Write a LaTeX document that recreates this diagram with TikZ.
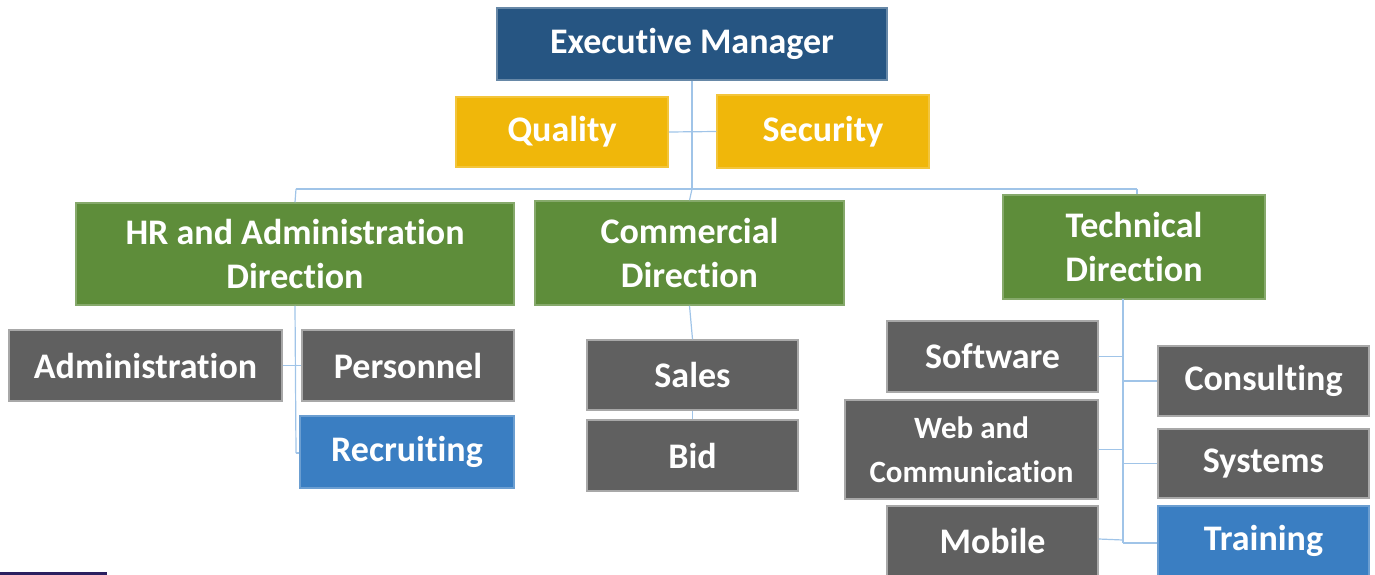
\documentclass[tikz,border=0pt]{standalone}
\usepackage{fontspec}
\setmainfont{Carlito}[Ligatures={NoCommon,NoContextual}]
\definecolor{navy}{RGB}{38,85,130}
\definecolor{gold}{RGB}{240,183,10}
\definecolor{leaf}{RGB}{94,141,58}
\definecolor{slate}{RGB}{96,96,96}
\definecolor{sky}{RGB}{58,126,194}
\definecolor{wire}{RGB}{160,196,232}
\definecolor{ink}{RGB}{42,32,96}
\tikzset{
  box/.style={rectangle, inner sep=0pt, align=center, text=white,
    font=\fontsize{36}{44}\selectfont\bfseries, line width=1.5pt},
  navybox/.style={box, fill=navy, draw=navy!70!white},
  goldbox/.style={box, fill=gold, draw=gold!80!white},
  leafbox/.style={box, fill=leaf, draw=leaf!75!white},
  slatebox/.style={box, fill=slate, draw=slate!55!white},
  skybox/.style={box, fill=sky, draw=sky!75!white},
  wirepath/.style={draw=wire, line width=1.2pt},
}
\newcommand{\boxat}[7]{% style, name, x1, y1, x2, y2, text
  \node[#1, minimum width={#5-#3}, minimum height={#6-#4}] (#2) at ({(#3+#5)/2},{(#4+#6)/2+2}) {#7};}
\begin{document}
\begin{tikzpicture}[x=1pt,y=-1pt]
\useasboundingbox (0,0) rectangle (1375,575);
\coordinate (bus) at (692,189);
\coordinate (busL) at (296,189);
\coordinate (busR) at (1137,189);
\coordinate (hrj) at (296,453);
\coordinate (tjt) at (1123,299);
\coordinate (tjb) at (1123,543);

\boxat{navybox}{exec}{497}{6}{887}{78}{Executive Manager}
\boxat{goldbox}{quality}{456}{95}{668}{165}{Quality}
\boxat{goldbox}{security}{717}{93}{929}{166}{Security}
\boxat{leafbox}{hr}{76}{201}{514}{303}{HR and Administration\\Direction}
\boxat{leafbox}{comm}{535}{199}{844}{303}{Commercial\\Direction}
\boxat{leafbox}{tech}{1003}{193}{1265}{297}{Technical\\Direction}
\boxat{slatebox}{admin}{9}{328}{282}{399}{Administration}
\boxat{slatebox}{pers}{302}{328}{514}{399}{Personnel}
\boxat{skybox}{recr}{300}{414}{514}{486}{Recruiting}
\boxat{slatebox}{sales}{587}{338}{798}{408}{Sales}
\boxat{slatebox}{bid}{587}{418}{798}{489}{Bid}
\boxat{slatebox}{soft}{887}{319}{1098}{390}{Software}
\boxat{slatebox}{web}{845}{398}{1098}{497}{\fontsize{31}{36}\selectfont\bfseries Web and\\\fontsize{31}{36}\selectfont\bfseries Communication}
\boxat{slatebox}{mob}{887}{504}{1098}{574}{Mobile}
\boxat{slatebox}{cons}{1158}{344}{1369}{414}{Consulting}
\boxat{slatebox}{sys}{1158}{427}{1369}{496}{Systems}
\boxat{skybox}{train}{1158}{504}{1369}{574}{Training}

\path[wirepath] (exec.south) -- (bus);
\path[wirepath] (quality.east) -- (security.west);
\path[wirepath] (busL) -- (busR);
\path[wirepath] (busL) -- (hr.north);
\path[wirepath] (bus) -- (comm.north);
\path[wirepath] (busR) -- (busR |- tech.north);
\path[wirepath] (hr.south) -- (hrj);
\path[wirepath] (hrj) -- (recr.west |- hrj);
\path[wirepath] (admin.east) -- (pers.west);
\path[wirepath] (comm.south) -- (sales.north);
\path[wirepath] (sales.south) -- (bid.north);
\path[wirepath] (tjt) -- (tjb);
\path[wirepath] (soft.east) -- (soft.east -| tjt);
\path[wirepath] (web.east) -- (web.east -| tjt);
\path[wirepath] (mob.east) ++(0,-2) -- (1123,540);
\path[wirepath] (tjt |- cons.west) -- (cons.west);
\path[wirepath] (tjt |- sys.west) -- (sys.west);
\path[wirepath] (tjb) -- (tjb -| train.west);

\fill[ink] (0,572) rectangle (107,575);
\end{tikzpicture}
\end{document}
